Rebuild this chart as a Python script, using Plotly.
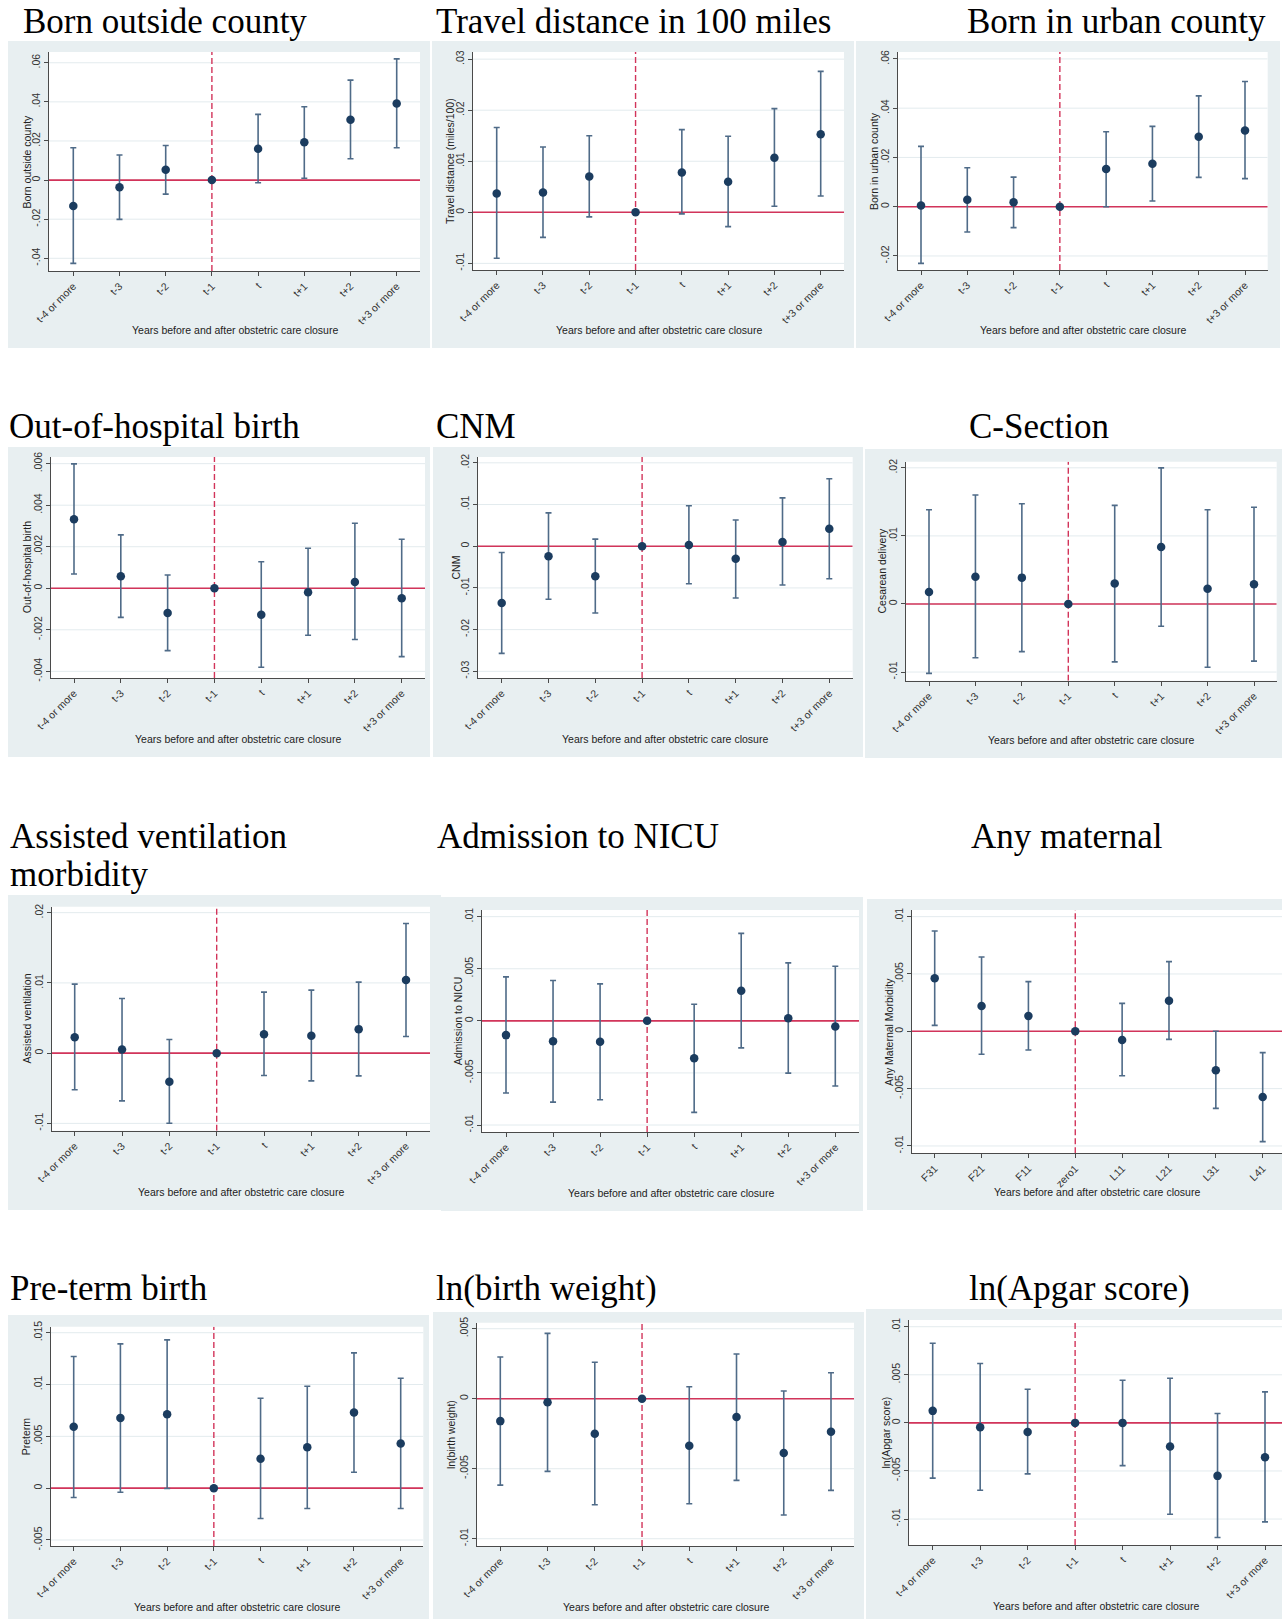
import plotly.graph_objects as go

W, H = 1282, 1619

# ---------------------------------------------------------------- data
event_labels = ["t-4 or more", "t-3", "t-2", "t-1", "t", "t+1", "t+2", "t+3 or more"]
maternal_labels = ["F31", "F21", "F11", "zero1", "L11", "L21", "L31", "L41"]
x_title = "Years before and after obstetric care closure"

born_outside_est = [-0.0133, -0.0037, 0.0053, 0.0, 0.0160, 0.0193, 0.0308, 0.0392]
born_outside_lo = [-0.0426, -0.0201, -0.0072, 0.0, -0.0014, 0.0009, 0.0109, 0.0165]
born_outside_hi = [0.0165, 0.0128, 0.0177, 0.0, 0.0336, 0.0375, 0.0511, 0.0620]
born_outside_ticks = [-0.04, -0.02, 0, 0.02, 0.04, 0.06]

travel_est = [0.0037, 0.0039, 0.0070, 0.0, 0.0078, 0.0060, 0.0107, 0.0153]
travel_lo = [-0.0090, -0.0049, -0.0009, 0.0, -0.0003, -0.0028, 0.0012, 0.0032]
travel_hi = [0.0166, 0.0128, 0.0150, 0.0, 0.0162, 0.0149, 0.0203, 0.0276]
travel_ticks = [-0.01, 0, 0.01, 0.02, 0.03]

urban_est = [0.0005, 0.0028, 0.0018, 0.0, 0.0153, 0.0174, 0.0284, 0.0309]
urban_lo = [-0.0230, -0.0103, -0.0085, 0.0, 0.0000, 0.0023, 0.0119, 0.0114]
urban_hi = [0.0245, 0.0158, 0.0120, 0.0, 0.0304, 0.0326, 0.0450, 0.0508]
urban_ticks = [-0.02, 0, 0.02, 0.04, 0.06]

out_hosp_est = [0.00332, 0.00058, -0.00119, 0.0, -0.00127, -0.00019, 0.00030, -0.00048]
out_hosp_lo = [0.00069, -0.00140, -0.00300, 0.0, -0.00380, -0.00226, -0.00247, -0.00329]
out_hosp_hi = [0.00599, 0.00257, 0.00064, 0.0, 0.00128, 0.00193, 0.00313, 0.00236]
out_hosp_ticks = [-0.004, -0.002, 0, 0.002, 0.004, 0.006]

cnm_est = [-0.0136, -0.0024, -0.0072, 0.0, 0.0003, -0.0030, 0.0010, 0.0042]
cnm_lo = [-0.0257, -0.0127, -0.0160, 0.0, -0.0090, -0.0124, -0.0093, -0.0078]
cnm_hi = [-0.0015, 0.0080, 0.0017, 0.0, 0.0097, 0.0063, 0.0116, 0.0162]
cnm_ticks = [-0.03, -0.02, -0.01, 0, 0.01, 0.02]

csection_est = [0.00176, 0.00400, 0.00387, 0.0, 0.00300, 0.00837, 0.00225, 0.00289]
csection_lo = [-0.01020, -0.00790, -0.00700, 0.0, -0.00850, -0.00328, -0.00930, -0.00840]
csection_hi = [0.01385, 0.01600, 0.01473, 0.0, 0.01449, 0.02000, 0.01385, 0.01420]
csection_ticks = [-0.01, 0, 0.01, 0.02]

ventilation_est = [0.00228, 0.00052, -0.00408, 0.0, 0.00270, 0.00247, 0.00342, 0.01040]
ventilation_lo = [-0.00522, -0.00679, -0.00997, 0.0, -0.00318, -0.00394, -0.00323, 0.00237]
ventilation_hi = [0.00983, 0.00778, 0.00195, 0.0, 0.00869, 0.00897, 0.01011, 0.01846]
ventilation_ticks = [-0.01, 0, 0.01, 0.02]

nicu_est = [-0.00137, -0.00195, -0.00201, 0.0, -0.00358, 0.00288, 0.00026, -0.00054]
nicu_lo = [-0.00693, -0.00780, -0.00757, 0.0, -0.00879, -0.00259, -0.00502, -0.00626]
nicu_hi = [0.00422, 0.00387, 0.00355, 0.0, 0.00160, 0.00840, 0.00556, 0.00524]
nicu_ticks = [-0.01, -0.005, 0, 0.005, 0.01]

maternal_est = [0.00462, 0.00221, 0.00134, 0.0, -0.00076, 0.00267, -0.00340, -0.00573]
maternal_lo = [0.00052, -0.00200, -0.00163, 0.0, -0.00387, -0.00070, -0.00672, -0.00962]
maternal_hi = [0.00875, 0.00648, 0.00433, 0.0, 0.00244, 0.00608, 0.00000, -0.00186]
maternal_ticks = [-0.01, -0.005, 0, 0.005, 0.01]

preterm_est = [0.00592, 0.00678, 0.00714, 0.0, 0.00283, 0.00395, 0.00730, 0.00431]
preterm_lo = [-0.00090, -0.00039, -0.00003, 0.0, -0.00293, -0.00196, 0.00154, -0.00196]
preterm_hi = [0.01270, 0.01392, 0.01431, 0.0, 0.00868, 0.00984, 0.01305, 0.01061]
preterm_ticks = [-0.005, 0, 0.005, 0.01, 0.015]

bweight_est = [-0.00160, -0.00026, -0.00250, 0.0, -0.00336, -0.00131, -0.00388, -0.00236]
bweight_lo = [-0.00617, -0.00519, -0.00757, 0.0, -0.00750, -0.00583, -0.00831, -0.00655]
bweight_hi = [0.00298, 0.00467, 0.00260, 0.0, 0.00086, 0.00319, 0.00055, 0.00186]
bweight_ticks = [-0.01, -0.005, 0, 0.005]

apgar_est = [0.00125, -0.00045, -0.00094, 0.0, 0.00000, -0.00246, -0.00551, -0.00357]
apgar_lo = [-0.00575, -0.00700, -0.00530, 0.0, -0.00444, -0.00950, -0.01192, -0.01030]
apgar_hi = [0.00828, 0.00617, 0.00350, 0.0, 0.00444, 0.00464, 0.00097, 0.00322]
apgar_ticks = [-0.01, -0.005, 0, 0.005, 0.01]

panels = [
    ("Born outside county", "Born outside county", event_labels,
     born_outside_est, born_outside_lo, born_outside_hi, born_outside_ticks),
    ("Travel distance in 100 miles", "Travel distance (miles/100)", event_labels,
     travel_est, travel_lo, travel_hi, travel_ticks),
    ("Born in urban county", "Born in urban county", event_labels,
     urban_est, urban_lo, urban_hi, urban_ticks),
    ("Out-of-hospital birth", "Out-of-hospital birth", event_labels,
     out_hosp_est, out_hosp_lo, out_hosp_hi, out_hosp_ticks),
    ("CNM", "CNM", event_labels, cnm_est, cnm_lo, cnm_hi, cnm_ticks),
    ("C-Section", "Cesarean delivery", event_labels,
     csection_est, csection_lo, csection_hi, csection_ticks),
    ("Assisted ventilation<br>morbidity", "Assisted ventilation", event_labels,
     ventilation_est, ventilation_lo, ventilation_hi, ventilation_ticks),
    ("Admission to NICU", "Admission to NICU", event_labels,
     nicu_est, nicu_lo, nicu_hi, nicu_ticks),
    ("Any maternal", "Any Maternal Morbidity", maternal_labels,
     maternal_est, maternal_lo, maternal_hi, maternal_ticks),
    ("Pre-term birth", "Preterm", event_labels,
     preterm_est, preterm_lo, preterm_hi, preterm_ticks),
    ("ln(birth weight)", "ln(birth weight)", event_labels,
     bweight_est, bweight_lo, bweight_hi, bweight_ticks),
    ("ln(Apgar score)", "ln(Apgar score)", event_labels,
     apgar_est, apgar_lo, apgar_hi, apgar_ticks),
]

# ---------------------------------------------------------------- layout geometry (pixels)
# bg: graph region box; plot: plot region box; cat: centre of first / last category;
# yr: y range; title: (x, baseline, anchor); yt: x of y title; xt: y of x title
frames = [
    dict(bg=(8, 41, 430, 348), plot=(49, 52, 420, 271), cat=(73.3, 396.7),
         yr=(-0.0465, 0.0655), title=(21, 33, "left"), yt=26, xt=330),
    dict(bg=(432, 41, 854, 348), plot=(473, 52, 844, 270), cat=(496.7, 820.7),
         yr=(-0.0113, 0.0314), title=(434, 33, "left"), yt=450, xt=330),
    dict(bg=(856, 41, 1280, 348), plot=(897.7, 52, 1267.7, 270), cat=(921, 1245),
         yr=(-0.0257, 0.0628), title=(1268, 33, "right"), yt=874, xt=330),
    dict(bg=(8, 447, 430, 757), plot=(50.7, 457, 425, 678), cat=(74, 401.7),
         yr=(-0.00432, 0.00632), title=(7, 438, "left"), yt=26.7, xt=739.3),
    dict(bg=(433, 447, 863, 757), plot=(478, 457, 852.7, 678), cat=(501.7, 829.3),
         yr=(-0.0316, 0.0214), title=(434, 438, "left"), yt=455, xt=739),
    dict(bg=(865, 449, 1282, 758), plot=(906, 461.7, 1276.7, 680.7), cat=(929, 1254),
         yr=(-0.01127, 0.0209), title=(967, 438, "left"), yt=882.3, xt=740),
    dict(bg=(8, 895, 441, 1210), plot=(51.7, 906.7, 430, 1130.7), cat=(74.7, 406),
         yr=(-0.01104, 0.02085), title=(8, 847.5, "left"), yt=26.7, xt=1191.7),
    dict(bg=(441, 897, 863, 1211), plot=(482, 910, 859, 1132), cat=(506, 835.3),
         yr=(-0.01067, 0.01064), title=(435, 847.5, "left"), yt=458.3, xt=1193.3),
    dict(bg=(867, 899, 1282, 1210), plot=(911.7, 910, 1282, 1153.3), cat=(934.7, 1262.7),
         yr=(-0.01064, 0.01058), title=(969, 847.5, "left"), yt=888.3, xt=1191.7),
    dict(bg=(8, 1315, 429, 1619), plot=(50.7, 1326.7, 423.3, 1546), cat=(73.7, 400.7),
         yr=(-0.00558, 0.01558), title=(8, 1300, "left"), yt=26, xt=1607.3),
    dict(bg=(433, 1312, 864, 1619), plot=(477, 1322.7, 854, 1546), cat=(500.3, 831),
         yr=(-0.01052, 0.00543), title=(434, 1300, "left"), yt=451.7, xt=1606.7),
    dict(bg=(866, 1309, 1282, 1619), plot=(909, 1320, 1282, 1545), cat=(932.7, 1265),
         yr=(-0.0127, 0.0107), title=(967, 1300, "left"), yt=885, xt=1605.7),
]

BG = "#e8eff1"
GRID = "#e3ebee"
AXIS = "#4a4a4a"
CI = "#4f6b88"
DOT = "#1b3c5f"
REF = "#d2345a"
SANS = "Liberation Sans, Arial, sans-serif"
SERIF = "Liberation Serif, Times New Roman, serif"
TITLE_SIZE = 35
LINE_GAP = 38.3


def px(x):
    return x / W


def py(y):
    return 1 - y / H


def stata_label(v):
    if v == 0:
        return "0"
    s = f"{v:g}"
    return s.replace("0.", ".", 1)


fig = go.Figure()
paper_shapes = []
axis_shapes = []
annotations = []
layout_axes = {}

for i, ((title, ylab, cats, est, lo, hi, ticks), fr) in enumerate(zip(panels, frames)):
    n = i + 1
    sfx = "" if n == 1 else str(n)
    xref, yref = f"x{sfx}", f"y{sfx}"

    # graph region and white plot region
    bx0, by0, bx1, by1 = fr["bg"]
    paper_shapes.append(dict(type="rect", xref="paper", yref="paper", layer="below",
                             x0=px(bx0), x1=px(bx1), y0=py(by1), y1=py(by0),
                             fillcolor=BG, line=dict(width=0)))
    x0, y0, x1, y1 = fr["plot"]
    paper_shapes.append(dict(type="rect", xref="paper", yref="paper", layer="below",
                             x0=px(x0), x1=px(x1), y0=py(y1), y1=py(y0),
                             fillcolor="white", line=dict(width=0)))

    c0, c1 = fr["cat"]
    step = (c1 - c0) / (len(cats) - 1)
    xr = [(x0 - c0) / step, (len(cats) - 1) + (x1 - c1) / step]
    yr = list(fr["yr"])

    layout_axes[f"xaxis{sfx}"] = dict(
        domain=[px(x0), min(px(x1), 1.0)], anchor=yref, type="category",
        range=xr, automargin=False, showgrid=False, zeroline=False, showline=True,
        linecolor=AXIS, linewidth=1, ticks="outside", ticklen=4, tickcolor=AXIS,
        tickangle=-45, tickfont=dict(family=SANS, size=10.5, color="#333"),
        fixedrange=True,
    )
    layout_axes[f"yaxis{sfx}"] = dict(
        domain=[py(y1), py(y0)], anchor=xref, range=yr, automargin=False,
        tickmode="array", tickvals=ticks, ticktext=[stata_label(t) for t in ticks],
        tickangle=-90, showgrid=False, zeroline=False, showline=True,
        linecolor=AXIS, linewidth=1, ticks="outside", ticklen=4, tickcolor=AXIS,
        tickfont=dict(family=SANS, size=10.5, color="#333"),
        fixedrange=True,
    )

    # horizontal grid at each labelled tick, drawn under the reference lines
    for t in ticks:
        axis_shapes.append(dict(type="line", xref=xref, yref=yref, layer="below",
                                x0=xr[0], x1=xr[1], y0=t, y1=t,
                                line=dict(color=GRID, width=1)))
    # reference lines: zero effect and the last pre-closure year
    axis_shapes.append(dict(type="line", xref=xref, yref=yref, layer="below",
                            x0=xr[0], x1=xr[1], y0=0, y1=0,
                            line=dict(color=REF, width=1.6)))
    axis_shapes.append(dict(type="line", xref=xref, yref=yref, layer="below",
                            x0=3, x1=3, y0=yr[0], y1=yr[1],
                            line=dict(color=REF, width=1.4, dash="6px,3px")))

    fig.add_trace(go.Scatter(
        x=cats, y=est, mode="markers", xaxis=xref, yaxis=yref, showlegend=False,
        marker=dict(size=8.5, color=DOT),
        error_y=dict(type="data", symmetric=False,
                     array=[h - e for h, e in zip(hi, est)],
                     arrayminus=[e - l for e, l in zip(est, lo)],
                     color=CI, thickness=1.6, width=3),
        cliponaxis=False,
    ))

    # panel title
    tx, base, anchor = fr["title"]
    for k, line in enumerate(title.split("<br>")):
        annotations.append(dict(
            text=line, xref="paper", yref="paper", x=px(tx),
            y=py(base + k * LINE_GAP - 11.5),
            xanchor=anchor, yanchor="middle", showarrow=False,
            font=dict(family=SERIF, size=TITLE_SIZE, color="black")))

    # axis titles
    annotations.append(dict(
        text=ylab, xref="paper", yref="paper", x=px(fr["yt"]), y=py((y0 + y1) / 2),
        xanchor="center", yanchor="middle", textangle=-90, showarrow=False,
        font=dict(family=SANS, size=10.5, color="#222")))
    annotations.append(dict(
        text=x_title, xref="paper", yref="paper", x=px((x0 + min(x1, W)) / 2),
        y=py(fr["xt"]), xanchor="center", yanchor="middle", showarrow=False,
        font=dict(family=SANS, size=10.5, color="#222")))

fig.update_layout(
    template="none",
    width=W, height=H, margin=dict(l=0, r=0, t=0, b=0, autoexpand=False),
    paper_bgcolor="white", plot_bgcolor="white",
    shapes=paper_shapes + axis_shapes, annotations=annotations, showlegend=False,
    **layout_axes,
)

fig.write_html("out.html")
